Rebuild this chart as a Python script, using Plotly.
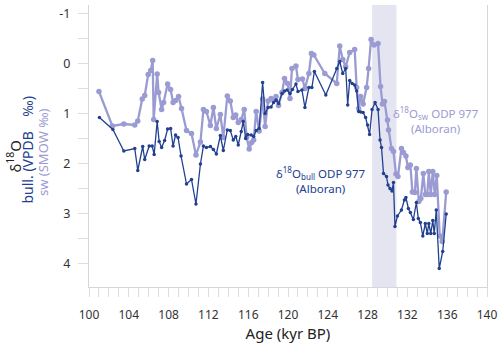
import plotly.graph_objects as go

# d18O of seawater (light purple)
age_sw = [101.0, 102.35, 103.5, 104.6, 104.9, 105.35, 105.6, 105.95, 106.2, 106.4,
          106.5, 106.85, 107.0, 107.3, 107.5, 107.9, 108.2, 108.45, 108.7, 109.0,
          109.3, 109.8, 110.3, 110.75, 111.2, 111.5, 111.8, 112.2, 112.5, 112.8,
          113.2, 113.5, 113.9, 114.2, 114.5, 114.75, 115.0, 115.3, 115.6, 115.85,
          116.1, 116.35, 116.55, 116.8, 117.1, 117.45, 117.7, 118.0, 118.3, 118.55,
          118.8, 119.05, 119.4, 119.65, 119.97, 120.2, 120.4, 120.8, 121.0, 121.45,
          121.7, 122.1, 122.35, 122.6, 123.7, 124.9, 125.2, 125.5, 125.8, 126.2,
          126.7, 126.9, 127.1, 127.3, 127.55, 127.9, 128.1, 128.35, 128.65, 129.05,
          129.3, 129.5, 129.7, 130.0, 130.1, 130.4, 130.6, 130.85, 131.05, 131.4,
          131.6, 131.85, 132.05, 132.3, 132.5, 132.75, 132.9, 133.15, 133.35, 133.6,
          133.8, 134.0, 134.15, 134.35, 134.55, 134.75, 134.95, 135.25, 135.5, 135.9]
d18o_sw = [0.56, 1.25, 1.21, 1.23, 1.15, 0.71, 0.64, 0.22, 0.14, -0.06,
           1.12, 0.21, 0.58, 0.92, 0.78, 0.41, 0.52, 0.78, 0.74, 0.66,
           0.90, 1.34, 1.40, 1.83, 1.57, 0.92, 0.96, 1.24, 0.88, 1.30,
           1.02, 1.48, 0.65, 0.75, 1.08, 1.03, 1.18, 1.12, 0.92, 1.48,
           1.71, 1.58, 1.53, 0.96, 1.35, 0.71, 1.26, 0.75, 0.70, 0.73,
           0.66, 0.84, 0.58, 0.30, 0.40, 0.70, 0.10, 0.05, 0.32, 0.31,
           0.50, 0.20, -0.20, -0.17, 0.20, 0.40, -0.35, -0.08, 0.06, -0.22,
           -0.28, 0.48, 0.90, 0.66, 0.81, 0.48, 0.10, -0.48, -0.37, -0.40,
           0.46, 0.81, 0.76, 1.13, 1.33, 1.70, 1.76, 2.21, 2.26, 1.70,
           1.78, 1.85, 2.08, 2.03, 2.57, 2.58, 2.10, 2.76, 2.70, 2.20,
           2.62, 2.62, 2.16, 2.62, 2.16, 2.62, 2.24, 3.45, 3.56, 2.57]

# d18O of G. bulloides (dark blue)
age_bull = [101.05, 102.4, 103.5, 104.6, 104.9, 105.4, 105.6, 106.05, 106.35, 106.55,
            106.85, 107.05, 107.3, 107.6, 107.9, 108.2, 108.45, 108.7, 108.95, 109.25,
            109.8, 110.3, 110.75, 111.2, 111.5, 111.8, 112.2, 112.5, 112.8, 113.2,
            113.5, 113.9, 114.2, 114.5, 114.75, 115.0, 115.3, 115.5, 115.75, 115.95,
            116.3, 116.55, 116.8, 117.1, 117.45, 117.7, 118.0, 118.3, 118.55, 118.8,
            119.05, 119.4, 119.65, 119.9, 120.2, 120.45, 120.8, 121.0, 121.4, 121.7,
            122.1, 122.4, 122.65, 123.8, 124.9, 125.2, 125.5, 125.8, 126.0, 126.2,
            126.45, 126.7, 126.9, 127.1, 127.3, 127.55, 127.8, 128.0, 128.2, 128.45,
            128.75, 129.05, 129.25, 129.4, 129.6, 129.9, 130.05, 130.25, 130.45, 130.6,
            130.75, 131.0, 131.4, 131.7, 131.85, 132.1, 132.3, 132.6, 132.9, 133.1,
            133.3, 133.55, 133.8, 134.0, 134.15, 134.35, 134.55, 134.7, 134.9, 135.2,
            135.55, 135.9]
d18o_bull = [1.08, 1.32, 1.75, 1.70, 2.14, 1.66, 1.92, 1.65, 1.65, 1.82,
             1.16, 1.56, 1.68, 1.54, 1.31, 1.30, 1.65, 1.43, 1.48, 1.85,
             2.41, 2.32, 2.81, 2.01, 1.65, 1.68, 1.66, 1.72, 1.81, 1.44,
             1.74, 1.33, 1.34, 1.53, 1.46, 1.63, 1.36, 1.16, 1.50, 1.42,
             1.43, 1.46, 1.34, 1.30, 0.38, 1.00, 0.88, 0.87, 0.78, 0.73,
             0.80, 0.60, 0.55, 0.53, 0.60, 0.52, 0.41, 0.56, 0.53, 0.88,
             0.48, 0.48, 0.16, 0.63, 0.10, -0.04, 0.20, 0.10, 0.83, 0.34,
             0.40, 0.43, 0.55, 0.96, 0.97, 0.98, 1.08, 1.23, 1.42, 0.92,
             0.78, 0.92, 1.53, 1.68, 2.20, 2.26, 2.43, 2.50, 2.55, 2.38,
             3.26, 3.05, 2.93, 2.73, 2.68, 2.90, 2.98, 3.12, 2.78, 3.10,
             3.18, 3.45, 3.20, 3.40, 3.20, 3.40, 3.14, 3.40, 2.93, 4.10,
             3.76, 3.01]

shade_x = [128.45, 130.9]
x_ticks = list(range(100, 141, 4))
y_ticks = [-1, 0, 1, 2, 3, 4]
y_labels = ["-1", "0", "1", "2", "3", "4"]

dark = "#21408f"
light = "#9b9bd3"
font = "Noto Sans"

fig = go.Figure()

fig.add_vrect(x0=shade_x[0], x1=shade_x[1], fillcolor="#e5e5f1", line_width=0, layer="below")

fig.add_trace(go.Scatter(
    x=age_sw, y=d18o_sw, mode="lines+markers",
    line=dict(color=light, width=2.3),
    marker=dict(color=light, size=5.5),
    showlegend=False
))

fig.add_trace(go.Scatter(
    x=age_bull, y=d18o_bull, mode="lines+markers",
    line=dict(color=dark, width=1.3),
    marker=dict(color=dark, size=3.5),
    showlegend=False
))

fig.add_annotation(x=123.3, y=2.33, xref="x", yref="y", showarrow=False,
                   text="δ<sup>18</sup>O<sub>bull</sub> ODP 977<br>(Alboran)",
                   font=dict(family=font, size=11.5, color=dark), align="center")
fig.add_annotation(x=134.9, y=1.13, xref="x", yref="y", showarrow=False,
                   text="δ<sup>18</sup>O<sub>sw</sub> ODP 977<br>(Alboran)",
                   font=dict(family=font, size=11.5, color=light), align="center")

# y axis title, three rotated lines
fig.add_annotation(x=0, y=0.5, xref="paper", yref="paper", xshift=-88, yshift=-10,
                   showarrow=False, textangle=-90, text="δ<sup>18</sup>O",
                   font=dict(family=font, size=15, color="#222222"))
fig.add_annotation(x=0, y=0.5, xref="paper", yref="paper", xshift=-74, yshift=-4,
                   showarrow=False, textangle=-90, text="bull. (VPDB    ‰)",
                   font=dict(family=font, size=14, color=dark))
fig.add_annotation(x=0, y=0.5, xref="paper", yref="paper", xshift=-57, yshift=-7,
                   showarrow=False, textangle=-90, text="sw (SMOW ‰)",
                   font=dict(family=font, size=13, color=light))

fig.update_xaxes(
    range=[100, 140], tickvals=x_ticks, ticks="outside", ticklen=9, tickcolor="#dddddd",
    minor=dict(dtick=1, ticks="outside", ticklen=9, tickcolor="#dddddd"),
    showline=True, linecolor="#d6d6d6", linewidth=1, mirror=False,
    showgrid=False, zeroline=False, automargin=False, ticklabelstandoff=8,
    tickfont=dict(family=font, size=12, color="#333333"),
    title=dict(text="Age (kyr BP)", font=dict(family=font, size=15, color="#222222"), standoff=4)
)
fig.update_yaxes(
    range=[4.47, -1.17], tickvals=y_ticks, ticktext=y_labels, ticks="outside", ticklen=10,
    tickcolor="#dddddd",
    minor=dict(dtick=0.5, ticks="outside", ticklen=10, tickcolor="#dddddd"),
    showline=True, linecolor="#d6d6d6", linewidth=1, mirror=True,
    showgrid=False, zeroline=False, automargin=False, ticklabelstandoff=5,
    tickfont=dict(family=font, size=12.5, color="#333333")
)

fig.update_layout(
    width=500, height=346,
    margin=dict(l=89, r=13, t=5, b=59),
    plot_bgcolor="white", paper_bgcolor="white",
    font=dict(family=font)
)

# the page body has a default margin; drop it so the figure sits at the window's corner
fig.write_html("out.html", config={"displayModeBar": False},
               post_script="document.body.style.margin = '0';")
